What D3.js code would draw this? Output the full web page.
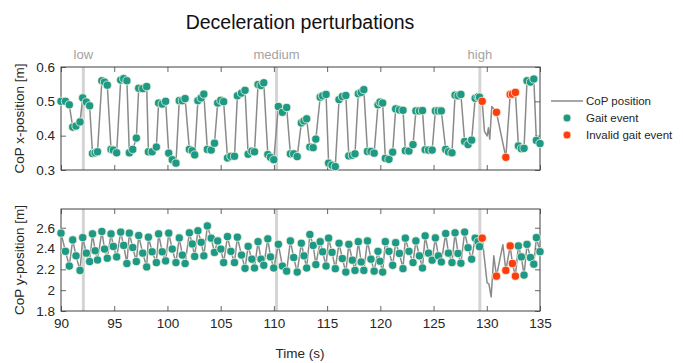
<!DOCTYPE html>
<html>
<head>
<meta charset="utf-8">
<script src="https://cdn.jsdelivr.net/npm/d3@7"></script>
<style>
  body { margin: 0; background: #fff; }
  svg { font-family: "Liberation Sans", Arial, Helvetica, sans-serif; }
</style>
</head>
<body>
<svg id="chart" width="683" height="363"></svg>
<script>
// ---- Data -------------------------------------------------------------
// Valid gait events: time (s), CoP x-position (m), CoP y-position (m)
const gaitTime = [
  90.00, 90.42, 90.78,  91.10, 91.41, 91.79,  92.04, 92.38, 92.69,
  92.96, 93.21, 93.43,  93.84, 94.09, 94.35,  94.70, 94.92, 95.23,
  95.61, 95.89, 96.19,  96.42, 96.74, 97.08,  97.30, 97.68, 98.05,
  98.21, 98.56, 98.96,  99.17, 99.51, 99.83,  100.12, 100.45, 100.80,
  101.11, 101.40, 101.66,  102.06, 102.33, 102.56,  102.86, 103.17, 103.42,
  103.75, 104.11, 104.42,  104.72, 105.02, 105.28,  105.64, 105.96, 106.30,
  106.57, 106.96, 107.29,  107.58, 107.93, 108.18,  108.51, 108.79, 109.05,
  109.43, 109.68, 109.99,  110.42, 110.80, 111.20,  111.55, 111.86, 112.19,
  112.58, 112.83, 113.08,  113.38, 113.69, 113.94,  114.35, 114.58, 114.90,
  115.14, 115.46, 115.77,  116.12, 116.43, 116.76,  117.04, 117.37, 117.62,
  117.93, 118.20, 118.45,  118.79, 119.12, 119.42,  119.78, 119.97, 120.22,
  120.47, 120.81, 121.16,  121.44, 121.79, 122.13,  122.35, 122.69, 123.07,
  123.34, 123.67, 123.96,  124.21, 124.53, 124.87,  125.17, 125.45, 125.73,
  126.14, 126.40, 126.73,  127.02, 127.30, 127.57,  127.92, 128.24, 128.58,
  128.91, 129.18, 129.32,
  132.97, 133.25, 133.50,  133.78, 134.11, 134.42,  134.66, 135.00
];
const gaitX = [
  0.500, 0.500, 0.490,  0.425, 0.428, 0.440,  0.510, 0.498, 0.487,
  0.348, 0.350, 0.353,  0.560, 0.556, 0.547,  0.360, 0.358, 0.350,
  0.562, 0.566, 0.560,  0.350, 0.360, 0.393,  0.538, 0.537, 0.543,
  0.353, 0.353, 0.367,  0.495, 0.492, 0.500,  0.349, 0.330, 0.320,
  0.502, 0.502, 0.508,  0.360, 0.356, 0.344,  0.502, 0.510, 0.521,
  0.360, 0.358, 0.378,  0.495, 0.503, 0.499,  0.335, 0.340, 0.340,
  0.516, 0.524, 0.532,  0.346, 0.355, 0.353,  0.549, 0.546, 0.554,
  0.345, 0.337, 0.330,  0.485, 0.468, 0.482,  0.347, 0.347, 0.339,
  0.437, 0.443, 0.449,  0.367, 0.365, 0.390,  0.512, 0.516, 0.520,
  0.320, 0.314, 0.310,  0.505, 0.514, 0.517,  0.341, 0.343, 0.347,
  0.522, 0.526, 0.534,  0.354, 0.354, 0.349,  0.490, 0.498, 0.495,
  0.334, 0.331, 0.352,  0.478, 0.475, 0.474,  0.356, 0.355, 0.374,
  0.472, 0.472, 0.473,  0.359, 0.358, 0.358,  0.472, 0.472, 0.472,
  0.360, 0.353, 0.350,  0.518, 0.516, 0.520,  0.383, 0.374, 0.387,
  0.509, 0.513, 0.512,
  0.370, 0.362, 0.363,  0.560, 0.556, 0.565,  0.386, 0.377
];
const gaitY = [
  2.548, 2.373, 2.232,  2.483, 2.330, 2.190,  2.505, 2.356, 2.275,
  2.541, 2.379, 2.290,  2.564, 2.395, 2.307,  2.541, 2.420, 2.320,
  2.558, 2.430, 2.256,  2.548, 2.410, 2.275,  2.525, 2.356, 2.223,
  2.509, 2.369, 2.265,  2.541, 2.369, 2.281,  2.548, 2.395, 2.265,
  2.502, 2.337, 2.256,  2.551, 2.444, 2.324,  2.571, 2.460, 2.330,
  2.617, 2.500, 2.363,  2.473, 2.395, 2.265,  2.515, 2.373, 2.265,
  2.509, 2.337, 2.210,  2.421, 2.298, 2.213,  2.466, 2.298, 2.239,
  2.493, 2.320, 2.213,  2.441, 2.232, 2.183,  2.473, 2.314, 2.174,
  2.451, 2.330, 2.213,  2.535, 2.430, 2.246,  2.466, 2.369, 2.232,
  2.500, 2.363, 2.207,  2.451, 2.304, 2.174,  2.441, 2.288, 2.190,
  2.466, 2.271, 2.190,  2.473, 2.298, 2.183,  2.373, 2.278, 2.174,
  2.466, 2.373, 2.239,  2.456, 2.353, 2.207,  2.500, 2.373, 2.265,
  2.473, 2.330, 2.213,  2.522, 2.356, 2.288,  2.502, 2.330, 2.271,
  2.544, 2.356, 2.265,  2.551, 2.353, 2.259,  2.558, 2.408, 2.298,
  2.500, 2.466, 2.418,
  2.425, 2.320, 2.145,  2.440, 2.314, 2.250,  2.505, 2.370
];

// Invalid gait events (during the high perturbation)
const invalidTime = [129.57, 130.91, 131.79, 132.20, 132.41, 132.69];
const invalidX    = [0.500, 0.468, 0.337, 0.520, 0.521, 0.526];
const invalidY    = [2.500, 2.135, 2.190, 2.425, 2.256, 2.135];

// Extra CoP samples between events (perturbation response)
const copExtraTimeX = [129.78, 130.03, 130.15, 130.28, 130.47];
const copExtraX     = [0.413, 0.399, 0.423, 0.390, 0.485];
const copExtraTimeY = [130.03, 130.20, 130.41, 130.66, 131.51];
const copExtraY     = [2.070, 2.060, 1.935, 2.330, 2.437];

// Perturbation onsets
const perturbLabels = ["low", "medium", "high"];
const perturbTime   = [92.1, 110.25, 129.35];

// Axis ticks
const timeTicks = [90, 95, 100, 105, 110, 115, 120, 125, 130, 135];
const xPosTicks = [0.3, 0.4, 0.5, 0.6];
const yPosTicks = [1.8, 2, 2.2, 2.4, 2.6];

// ---- Layout -----------------------------------------------------------
const svg = d3.select("#chart");
const plotLeft = 61, plotRight = 540;
const axisColor = "#404040";
const tickLen = 5;
const teal = "#1e9987", red = "#fb3f0c";

const tScale = d3.scaleLinear().domain([90, 135]).range([plotLeft, plotRight]);

const panels = [
  { key: "x", top: 67, bottom: 170, domain: [0.3, 0.6], ticks: xPosTicks,
    fmt: d3.format(".1f"), label: "CoP x-position [m]", values: gaitX,
    invalid: invalidX, extraT: copExtraTimeX, extraV: copExtraX, showTime: false },
  { key: "y", top: 209, bottom: 311, domain: [1.8, 2.78], ticks: yPosTicks,
    fmt: d => d3.format("~g")(d), label: "CoP y-position [m]", values: gaitY,
    invalid: invalidY, extraT: copExtraTimeY, extraV: copExtraY, showTime: true }
];

// Title
svg.append("text")
  .attr("x", 300).attr("y", 29)
  .attr("text-anchor", "middle")
  .attr("font-size", 19.5)
  .attr("fill", "#111")
  .text("Deceleration perturbations");

// Perturbation labels above the first panel
svg.selectAll("text.plabel")
  .data(perturbTime)
  .join("text")
  .attr("class", "plabel")
  .attr("x", d => tScale(d))
  .attr("y", 59)
  .attr("text-anchor", "middle")
  .attr("font-size", 13)
  .attr("fill", "#a3a3a3")
  .text((d, i) => perturbLabels[i]);

panels.forEach(p => {
  const vScale = d3.scaleLinear().domain(p.domain).range([p.bottom, p.top]);
  const g = svg.append("g");

  // Perturbation onset bars
  g.selectAll("line.onset")
    .data(perturbTime)
    .join("line")
    .attr("class", "onset")
    .attr("x1", d => tScale(d)).attr("x2", d => tScale(d))
    .attr("y1", p.top).attr("y2", p.bottom)
    .attr("stroke", "#d4d4d4")
    .attr("stroke-width", 3);

  // Continuous CoP trace through events and extra samples
  const pts = [];
  gaitTime.forEach((t, i) => pts.push([t, p.values[i]]));
  invalidTime.forEach((t, i) => pts.push([t, p.invalid[i]]));
  p.extraT.forEach((t, i) => pts.push([t, p.extraV[i]]));
  pts.sort((a, b) => a[0] - b[0]);

  g.append("path")
    .datum(pts)
    .attr("fill", "none")
    .attr("stroke", "#8a8a8a")
    .attr("stroke-width", 1.5)
    .attr("stroke-linejoin", "round")
    .attr("d", d3.line().x(d => tScale(d[0])).y(d => vScale(d[1])));

  // Axes with inward ticks on all four sides
  const axB = d3.axisBottom(tScale).tickValues(timeTicks).tickSize(-tickLen).tickPadding(7)
    .tickFormat(p.showTime ? d3.format("d") : "");
  const axT = d3.axisTop(tScale).tickValues(timeTicks).tickSize(-tickLen).tickFormat("");
  const axL = d3.axisLeft(vScale).tickValues(p.ticks).tickSize(-tickLen).tickPadding(6).tickFormat(p.fmt);
  const axR = d3.axisRight(vScale).tickValues(p.ticks).tickSize(-tickLen).tickFormat("");

  const style = sel => {
    sel.select(".domain").remove();
    sel.selectAll(".tick line").attr("stroke", axisColor).attr("stroke-width", 0.8);
    sel.selectAll(".tick text").attr("fill", "#262626").attr("font-size", 13.5)
      .attr("font-family", "Liberation Sans, Arial, sans-serif");
  };
  g.append("g").attr("transform", `translate(0,${p.bottom})`).call(axB).call(style);
  g.append("g").attr("transform", `translate(0,${p.top})`).call(axT).call(style);
  g.append("g").attr("transform", `translate(${plotLeft},0)`).call(axL).call(style);
  g.append("g").attr("transform", `translate(${plotRight},0)`).call(axR).call(style);

  g.append("rect")
    .attr("x", plotLeft).attr("y", p.top)
    .attr("width", plotRight - plotLeft).attr("height", p.bottom - p.top)
    .attr("fill", "none").attr("stroke", axisColor).attr("stroke-width", 1);

  // Gait event markers
  g.selectAll("circle.gait")
    .data(gaitTime)
    .join("circle")
    .attr("class", "gait")
    .attr("cx", d => tScale(d))
    .attr("cy", (d, i) => vScale(p.values[i]))
    .attr("r", 4.1)
    .attr("fill", teal)
    .attr("stroke", "#eef3d6")
    .attr("stroke-width", 0.8);

  g.selectAll("circle.invalid")
    .data(invalidTime)
    .join("circle")
    .attr("class", "invalid")
    .attr("cx", d => tScale(d))
    .attr("cy", (d, i) => vScale(p.invalid[i]))
    .attr("r", 4.1)
    .attr("fill", red)
    .attr("stroke", "#fde9dc")
    .attr("stroke-width", 0.8);

  // Y axis title
  svg.append("text")
    .attr("transform", `translate(24,${(p.top + p.bottom) / 2}) rotate(-90)`)
    .attr("text-anchor", "middle")
    .attr("font-size", 13.5)
    .attr("fill", "#262626")
    .text(p.label);
});

// X axis title
svg.append("text")
  .attr("x", 300).attr("y", 358)
  .attr("text-anchor", "middle")
  .attr("font-size", 13.5)
  .attr("fill", "#262626")
  .text("Time (s)");

// Legend
const legend = svg.append("g").attr("font-size", 11.5).attr("fill", "#262626");
legend.append("line")
  .attr("x1", 551).attr("x2", 583).attr("y1", 101).attr("y2", 101)
  .attr("stroke", "#8a8a8a").attr("stroke-width", 1.5);
legend.append("text").attr("x", 586).attr("y", 105).text("CoP position");
legend.append("circle").attr("cx", 567).attr("cy", 118).attr("r", 4)
  .attr("fill", teal).attr("stroke", "#eef3d6").attr("stroke-width", 0.8);
legend.append("text").attr("x", 586).attr("y", 122).text("Gait event");
legend.append("circle").attr("cx", 567).attr("cy", 135).attr("r", 4)
  .attr("fill", red).attr("stroke", "#fde9dc").attr("stroke-width", 0.8);
legend.append("text").attr("x", 586).attr("y", 139).text("Invalid gait event");
</script>
</body>
</html>
